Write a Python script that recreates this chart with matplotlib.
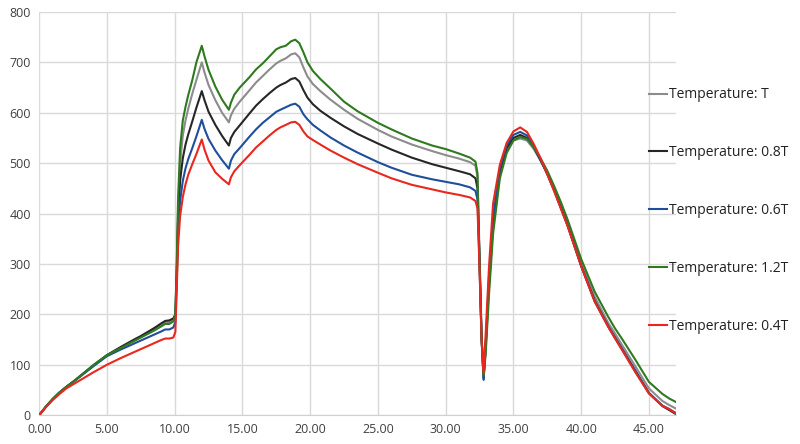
import matplotlib
matplotlib.use("Agg")
import matplotlib.pyplot as plt

# time axis
x = [0, 0.5, 1, 1.5, 2, 2.5, 3, 4, 5, 6, 7, 7.5, 8, 8.5, 9, 9.3, 9.6, 9.9,
     10.05, 10.15, 10.25, 10.4, 10.6, 10.8, 11.0, 11.3, 11.6, 12.0, 12.2, 12.5,
     13.0, 13.5, 14.0, 14.15, 14.4, 14.8, 15.5, 16, 16.5, 17, 17.5, 17.8, 18.2,
     18.6, 18.9, 19.2, 19.5, 19.8, 20.2, 20.75, 21.5, 22.5, 23.5, 25, 26, 27.5,
     29, 30, 31, 31.8, 32.2, 32.35, 32.5, 32.65, 32.8, 32.95, 33.2, 33.5, 34.0,
     34.5, 35.0, 35.5, 36.0, 36.5, 37.0, 37.5, 38.0, 38.5, 39, 40, 41, 42, 42.5,
     43, 44, 45, 46, 46.5, 47]

temp_T = [0, 17, 32, 45, 56, 66, 77, 99, 119, 134, 148, 155, 163, 171, 179, 184, 185, 190,
          198, 290, 410, 500, 555, 585, 608, 638, 665, 700, 680, 655,
          625, 600, 581, 595, 608, 622, 644, 660, 673, 686, 698, 703, 708,
          716, 718, 710, 690, 672, 657, 643, 626, 606, 588, 566, 553, 537,
          524, 516, 509, 502, 495, 472, 320, 160, 75, 130, 255, 375, 478,
          525, 545, 549, 545, 528, 505, 480, 450, 417, 382, 302, 235, 183, 162,
          140, 97, 53, 28, 20, 13]

temp_08T = [0, 17, 32, 45, 56, 66, 77, 99, 119, 135, 150, 157, 165, 173, 182, 187, 188, 192,
            200, 280, 390, 465, 510, 537, 557, 583, 610, 643, 625, 602,
            576, 554, 535, 550, 562, 575, 598, 614, 627, 639, 650, 655, 660,
            667, 669, 662, 645, 630, 617, 604, 590, 573, 558, 539, 527, 511,
            498, 491, 484, 478, 470, 450, 310, 155, 72, 135, 265, 385, 485,
            530, 550, 556, 550, 532, 506, 479, 447, 412, 377, 296, 227, 176, 154,
            132, 88, 44, 18, 10, 2]

temp_06T = [0, 17, 32, 45, 56, 66, 76, 97, 117, 130, 142, 148, 154, 160, 166, 170, 170, 174,
            185, 265, 360, 425, 465, 490, 508, 530, 553, 586, 568, 548,
            525, 506, 489, 505, 518, 530, 552, 567, 580, 591, 602, 606, 611,
            616, 618, 612, 597, 587, 576, 565, 551, 535, 521, 502, 491, 477,
            468, 463, 458, 452, 445, 428, 300, 150, 70, 140, 275, 395, 490,
            535, 556, 562, 555, 534, 507, 478, 446, 411, 376, 296, 226, 176, 154,
            132, 88, 44, 19, 12, 4]

temp_12T = [0, 17, 32, 45, 56, 66, 77, 99, 119, 133, 147, 154, 161, 168, 176, 181, 181, 186,
            200, 300, 430, 530, 585, 612, 635, 665, 700, 733, 712, 685,
            652, 626, 606, 620, 636, 650, 670, 686, 698, 712, 726, 730, 733,
            742, 745, 738, 720, 700, 683, 667, 648, 622, 603, 580, 567, 549,
            535, 528, 519, 511, 503, 480, 300, 150, 78, 120, 240, 360, 470,
            520, 545, 552, 548, 532, 510, 485, 455, 423, 388, 310, 245, 195, 172,
            152, 110, 66, 42, 33, 26]

temp_04T = [0, 16, 30, 42, 53, 61, 69, 85, 100, 113, 125, 131, 137, 143, 149, 152, 152, 154,
            165, 250, 335, 395, 433, 458, 477, 498, 518, 547, 527, 505,
            482, 469, 458, 472, 484, 496, 516, 531, 543, 555, 566, 571, 576,
            581, 582, 576, 563, 553, 546, 537, 525, 511, 498, 481, 470, 457,
            448, 442, 437, 432, 425, 410, 290, 150, 83, 160, 295, 420, 497,
            540, 563, 571, 562, 538, 510, 478, 445, 410, 375, 296, 225, 175, 152,
            130, 85, 43, 18, 12, 3]

series = [
    ("Temperature: T", temp_T, "#8c8c8c"),
    ("Temperature: 0.8T", temp_08T, "#262626"),
    ("Temperature: 0.6T", temp_06T, "#1f4f9a"),
    ("Temperature: 1.2T", temp_12T, "#2f7a1f"),
    ("Temperature: 0.4T", temp_04T, "#e8281e"),
]

plt.rcParams['font.family'] = ['Open Sans', 'DejaVu Sans']

fig = plt.figure(figsize=(8, 4.44), dpi=100)
ax = fig.add_axes([0.049, 0.065, 0.796, 0.908])

for label, y, color in series:
    ax.plot(x, y, color=color, lw=1.5, label=label, solid_joinstyle="round")

ax.set_xlim(0, 47)
ax.set_ylim(0, 800)
ax.set_xticks(range(0, 46, 5))
ax.set_xticklabels([f"{v:.2f}" for v in range(0, 46, 5)])
ax.set_yticks(range(0, 801, 100))
ax.grid(True, color="#d9d9d9", lw=1)
ax.set_axisbelow(True)
for s in ["top", "right", "left"]:
    ax.spines[s].set_visible(False)
ax.spines["bottom"].set_color("#d0d0d0")
ax.tick_params(length=0, labelsize=9, colors="#404040", pad=6)

fig.legend(loc="center left", bbox_to_anchor=(0.811, 0.526), frameon=False,
           fontsize=10, handlelength=1.3, handletextpad=0.15, labelspacing=3.08,
           borderpad=0, borderaxespad=0, labelcolor="#222222")

fig.savefig("out.png", dpi=100)
